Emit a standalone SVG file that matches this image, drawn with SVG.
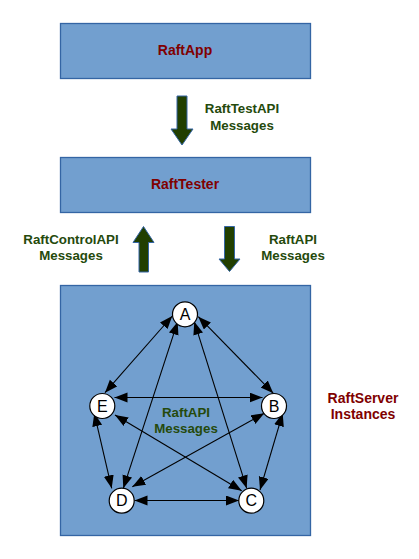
<svg xmlns="http://www.w3.org/2000/svg" width="419" height="559" viewBox="0 0 419 559">
<style>
.box{fill:#729fcf;stroke:#3465a4;stroke-width:1.3}
.red{font-family:"Liberation Sans",Arial,sans-serif;font-weight:bold;font-size:14px;fill:#800000;text-anchor:middle}
.grn{font-family:"Liberation Sans",Arial,sans-serif;font-weight:bold;font-size:13.3px;fill:#254a0c;text-anchor:middle}
.big{fill:#213f00;stroke:#3465a4;stroke-width:1}
.node{fill:#fff;stroke:#000;stroke-width:1.2}
.lbl{font-family:"Liberation Sans",Arial,sans-serif;font-size:16px;fill:#000;text-anchor:middle}
.con{stroke:#000;stroke-width:1.1;fill:none;marker-start:url(#ah);marker-end:url(#ah)}
</style>
<defs>
<marker id="ah" markerUnits="userSpaceOnUse" markerWidth="14" markerHeight="11" refX="13" refY="5" orient="auto-start-reverse" viewBox="0 0 14 11">
<path d="M0,0 L13,5 L0,10 z" fill="#000"/>
</marker>
</defs>
<rect width="419" height="559" fill="#fff"/>
<g id="raftapp">
<rect class="box" x="60.5" y="23.5" width="250" height="55"/>
<text class="red" x="185" y="55">RaftApp</text>
</g>
<g id="rafttester">
<rect class="box" x="60.5" y="157.5" width="250" height="55"/>
<text class="red" x="185" y="189">RaftTester</text>
</g>
<g id="servers">
<rect class="box" x="60.5" y="285.5" width="250" height="250"/>
<text class="grn" x="186" y="416.5">RaftAPI</text>
<text class="grn" x="186" y="432.5">Messages</text>
</g>
<g id="label-servers">
<text class="red" x="363" y="403">RaftServer</text>
<text class="red" x="363" y="419">Instances</text>
</g>
<g id="arrow-testapi">
<path class="big" d="M177,96 L187,96 L187,129 L193,129 L182,145 L171,129 L177,129 z"/>
<text class="grn" x="242" y="113">RaftTestAPI</text>
<text class="grn" x="242" y="129.5">Messages</text>
</g>
<g id="arrow-controlapi">
<path class="big" d="M143.5,226.5 L154,242.5 L148.5,242.5 L148.5,272 L139,272 L139,242.5 L133,242.5 z"/>
<text class="grn" x="71" y="243.5">RaftControlAPI</text>
<text class="grn" x="71" y="259.5">Messages</text>
</g>
<g id="arrow-raftapi">
<path class="big" d="M224.5,226.5 L234.5,226.5 L234.5,259 L240,259 L229.5,271.5 L219,259 L224.5,259 z"/>
<text class="grn" x="293" y="243.5">RaftAPI</text>
<text class="grn" x="293" y="259.5">Messages</text>
</g>
<g id="connectors">
<line class="con" x1="172.3" y1="316" x2="105" y2="392.7"/>
<line class="con" x1="198.3" y1="316.7" x2="273.3" y2="393.3"/>
<line class="con" x1="177.7" y1="321.7" x2="123.3" y2="488.3"/>
<line class="con" x1="194.3" y1="321.7" x2="246.7" y2="488.3"/>
<line class="con" x1="114.5" y1="397.5" x2="262.5" y2="397.5"/>
<line class="con" x1="115" y1="415" x2="241.7" y2="490.7"/>
<line class="con" x1="264.3" y1="413.3" x2="132.3" y2="486.7"/>
<line class="con" x1="94.3" y1="413.3" x2="111.7" y2="488.3"/>
<line class="con" x1="282.7" y1="413.3" x2="260" y2="490"/>
<line class="con" x1="134.5" y1="500.5" x2="239" y2="500.5"/>
</g>
<g id="node-A"><circle class="node" cx="185" cy="314.3" r="12.5"/><text class="lbl" x="185" y="320">A</text></g>
<g id="node-B"><circle class="node" cx="274" cy="406" r="12.5"/><text class="lbl" x="274" y="411.7">B</text></g>
<g id="node-C"><circle class="node" cx="251.3" cy="500.7" r="12.5"/><text class="lbl" x="251.3" y="506.4">C</text></g>
<g id="node-D"><circle class="node" cx="121.7" cy="500.7" r="12.5"/><text class="lbl" x="121.7" y="506.4">D</text></g>
<g id="node-E"><circle class="node" cx="102.3" cy="406" r="12.5"/><text class="lbl" x="102.3" y="411.7">E</text></g>
</svg>
